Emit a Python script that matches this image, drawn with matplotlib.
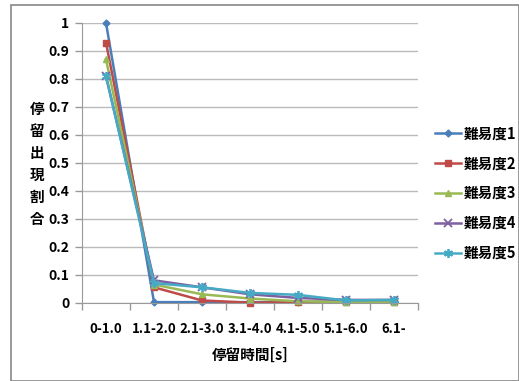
import numpy as np
import matplotlib.pyplot as plt
from matplotlib.patches import Rectangle

plt.rcParams['font.family'] = ['Noto Sans CJK JP', 'DejaVu Sans']

categories = ['0-1.0', '1.1-2.0', '2.1-3.0', '3.1-4.0', '4.1-5.0', '5.1-6.0', '6.1-']
level1 = [1.0, 0.002, 0.002, 0.002, 0.002, 0.005, 0.005]
level2 = [0.93, 0.055, 0.008, 0.0, 0.002, 0.003, 0.003]
level3 = [0.87, 0.065, 0.03, 0.015, 0.005, 0.002, 0.002]
level4 = [0.81, 0.08, 0.055, 0.03, 0.017, 0.01, 0.01]
level5 = [0.81, 0.07, 0.055, 0.035, 0.028, 0.008, 0.01]
names = ['難易度1', '難易度2', '難易度3', '難易度4', '難易度5']

series = [level1, level2, level3, level4, level5]
colors = ['#4A7EBB', '#BE4B48', '#98B954', '#7D60A0', '#46AAC5']
markers = ['D', 's', '^', 'x', (6, 2, 0)]
msizes = [3.5, 5, 5, 5.5, 6.5]

fig = plt.figure(figsize=(5.19, 3.81), dpi=100)
W, H = 519, 381
# outer chart frame
fig.patches.append(Rectangle((11 / W, 0), 1 - 11 / W, 1 - 5 / H, transform=fig.transFigure,
                             fill=False, edgecolor='#888888', linewidth=1.2))

ax = fig.add_axes([82 / W, (H - 302.7) / H, 336 / W, 279.7 / H])
x = np.arange(len(categories))
for vals, c, m, ms, name in zip(series, colors, markers, msizes, names):
    ax.plot(x, vals, color=c, marker=m, markersize=ms, linewidth=1.8, label=name,
            markeredgewidth=1.3 if m in ('x', (6, 2, 0)) else 1, clip_on=False)

ax.set_xlim(-0.5, len(categories) - 0.5)
ax.set_ylim(0, 1)
ax.set_yticks(np.arange(0, 1.01, 0.1))
ax.set_yticklabels(['0', '0.1', '0.2', '0.3', '0.4', '0.5', '0.6', '0.7', '0.8', '0.9', '1'],
                   fontsize=10, fontweight='bold')
ax.set_xticks(x)
ax.set_xticklabels(categories, fontsize=9.5, fontweight='bold')
ax.set_xticks(np.arange(-0.5, len(categories), 1), minor=True)
ax.tick_params(axis='x', which='major', length=0, pad=14)
ax.tick_params(axis='x', which='minor', length=5, color='#999999', width=1)
ax.tick_params(axis='y', length=5, color='#999999', width=1, pad=4)
ax.grid(axis='y', color='#BBBBBB', linewidth=1)
ax.set_axisbelow(True)
for side in ['top', 'right']:
    ax.spines[side].set_visible(False)
ax.spines['left'].set_color('#999999')
ax.spines['bottom'].set_color('#999999')

ax.set_xlabel('停留時間[s]', fontsize=10.5, fontweight='bold', labelpad=8)
fig.text(37 / W, 1 - 164 / H, '停\n留\n出\n現\n割\n合', fontsize=10.5, fontweight='bold',
         ha='center', va='center', linespacing=1.45)

leg = ax.legend(loc='center left', bbox_to_anchor=(435 / W, 1 - 193 / H),
                bbox_transform=fig.transFigure, frameon=False, handlelength=1.8,
                handletextpad=0.2, labelspacing=0.95, borderpad=0, borderaxespad=0,
                prop={'size': 10.5, 'weight': 'bold'})

fig.savefig('out.png', dpi=100)
